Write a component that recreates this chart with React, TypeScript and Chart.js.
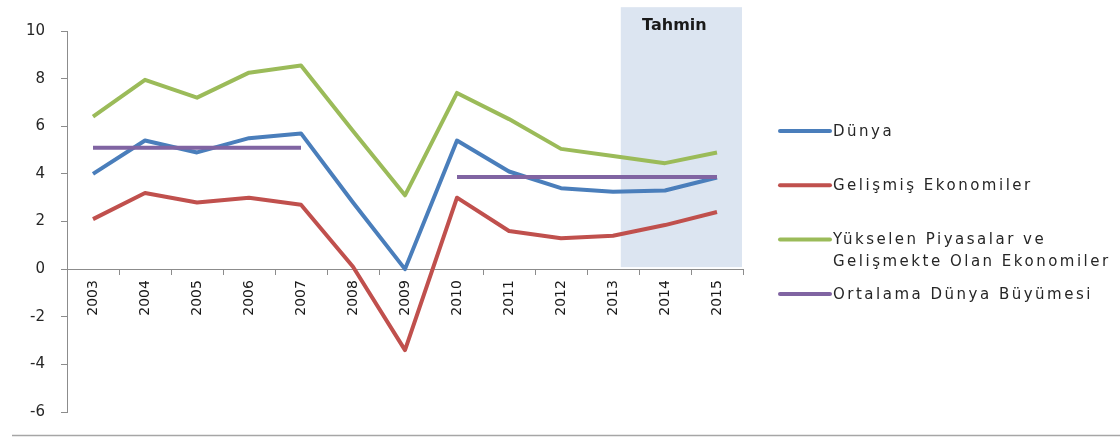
import React, { useEffect, useRef } from 'react';
import { Chart, registerables } from 'chart.js';

Chart.register(...registerables);

const years = ['2003', '2004', '2005', '2006', '2007', '2008', '2009', '2010', '2011', '2012', '2013', '2014', '2015'];
const dunya = [4.0, 5.4, 4.9, 5.5, 5.7, 2.8, 0.0, 5.4, 4.1, 3.4, 3.25, 3.3, 3.85];
const gelismis = [2.1, 3.2, 2.8, 3.0, 2.7, 0.1, -3.4, 3.0, 1.6, 1.3, 1.4, 1.85, 2.4];
const yukselen = [6.4, 7.95, 7.2, 8.25, 8.55, 5.8, 3.1, 7.4, 6.3, 5.05, 4.75, 4.45, 4.9];
const ortalama = [5.1, 5.1, 5.1, 5.1, 5.1, null, null, 3.87, 3.87, 3.87, 3.87, 3.87, 3.87];

const seriesLabels: (string | string[])[] = [
  'Dünya',
  'Gelişmiş Ekonomiler',
  ['Yükselen Piyasalar ve', 'Gelişmekte Olan Ekonomiler'],
  'Ortalama Dünya Büyümesi',
];
const seriesColors = ['#4A7EBB', '#C0504D', '#9BBB59', '#8064A2'];
const forecastLabel = 'Tahmin';
const forecastFrom = 10.15; // category index where the forecast band starts (between 2013 and 2014)
const yTicks = { min: -6, max: 10, step: 2 };

const FONT = '"DejaVu Sans", Verdana, sans-serif';

const forecastPlugin = {
  id: 'forecastBand',
  beforeDatasetsDraw(chart: any) {
    const { ctx, chartArea, scales } = chart;
    const xs = scales.x;
    const ys = scales.y;
    const left = xs.getPixelForValue(forecastFrom);
    const right = chartArea.right - 1;
    const top = ys.getPixelForValue(yTicks.max + 1);
    const bottom = ys.getPixelForValue(0) - 2;
    ctx.save();
    ctx.fillStyle = '#DCE5F1';
    ctx.fillRect(left, top, right - left, bottom - top);
    ctx.fillStyle = '#1a1a1a';
    ctx.font = `bold 16px ${FONT}`;
    ctx.textAlign = 'center';
    ctx.textBaseline = 'middle';
    ctx.fillText(forecastLabel, (left + right) / 2 - 7, top + 19);
    ctx.restore();
  },
};

const legendPlugin = {
  id: 'sideLegend',
  afterDraw(chart: any) {
    const { ctx } = chart;
    ctx.save();
    // bottom frame line
    ctx.strokeStyle = '#a6a6a6';
    ctx.lineWidth = 1.5;
    ctx.beginPath();
    ctx.moveTo(12, 435.5);
    ctx.lineTo(chart.width, 435.5);
    ctx.stroke();

    const x0 = 780;
    const x1 = 830;
    const startY = 131;
    const stepY = 54.3;
    ctx.font = `15px ${FONT}`;
    (ctx as any).letterSpacing = '2.5px';
    ctx.textAlign = 'left';
    ctx.textBaseline = 'middle';
    seriesLabels.forEach((lab, i) => {
      const y = startY + i * stepY;
      ctx.strokeStyle = seriesColors[i];
      ctx.lineWidth = 4;
      ctx.lineCap = 'round';
      ctx.beginPath();
      ctx.moveTo(x0, y);
      ctx.lineTo(x1, y);
      ctx.stroke();
      ctx.fillStyle = '#262626';
      const lines = Array.isArray(lab) ? lab : [lab];
      lines.forEach((t, j) => ctx.fillText(t, x1 + 3, y + 1 + j * 22));
    });
    ctx.restore();
  },
};

export default function App() {
  const ref = useRef<HTMLCanvasElement | null>(null);
  useEffect(() => {
    if (!ref.current) return;
    const series = [dunya, gelismis, yukselen, ortalama];
    const chart = new Chart(ref.current, {
      type: 'line',
      data: {
        labels: years,
        datasets: series.map((d, i) => ({
          label: Array.isArray(seriesLabels[i]) ? (seriesLabels[i] as string[]).join(' ') : (seriesLabels[i] as string),
          data: d,
          borderColor: seriesColors[i],
          backgroundColor: seriesColors[i],
          borderWidth: 4,
          pointRadius: 0,
          tension: 0,
          borderJoinStyle: 'round' as const,
          spanGaps: false,
          order: 4 - i,
        })),
      },
      options: {
        responsive: false,
        animation: false,
        layout: { padding: { left: 0, top: 31, right: 377, bottom: 21 } },
        plugins: { legend: { display: false }, tooltip: { enabled: false } },
        scales: {
          x: {
            type: 'category',
            position: { y: 0 } as any,
            offset: true,
            afterFit: (s: any) => { s.height = 0; },
            grid: { drawOnChartArea: false, drawTicks: true, tickLength: 5, color: '#8c8c8c', offset: true },
            border: { color: '#8c8c8c' },
            ticks: {
              autoSkip: false,
              minRotation: 90,
              maxRotation: 90,
              padding: 6,
              color: '#1a1a1a',
              font: { family: FONT, size: 14 },
            },
          },
          y: {
            min: yTicks.min,
            max: yTicks.max,
            afterFit: (s: any) => { s.width = 67; },
            grid: { drawOnChartArea: false, drawTicks: true, tickLength: 6, color: '#8c8c8c' },
            border: { color: '#8c8c8c' },
            ticks: {
              stepSize: yTicks.step,
              padding: 16,
              color: '#262626',
              font: { family: FONT, size: 15 },
            },
          },
        },
      },
      plugins: [forecastPlugin, legendPlugin],
    });
    return () => chart.destroy();
  }, []);

  return (
    <div style={{ position: 'fixed', left: 0, top: 0, width: 1120, height: 437, background: '#fff' }}>
      <canvas ref={ref} width={1120} height={437} style={{ display: 'block' }} />
    </div>
  );
}
